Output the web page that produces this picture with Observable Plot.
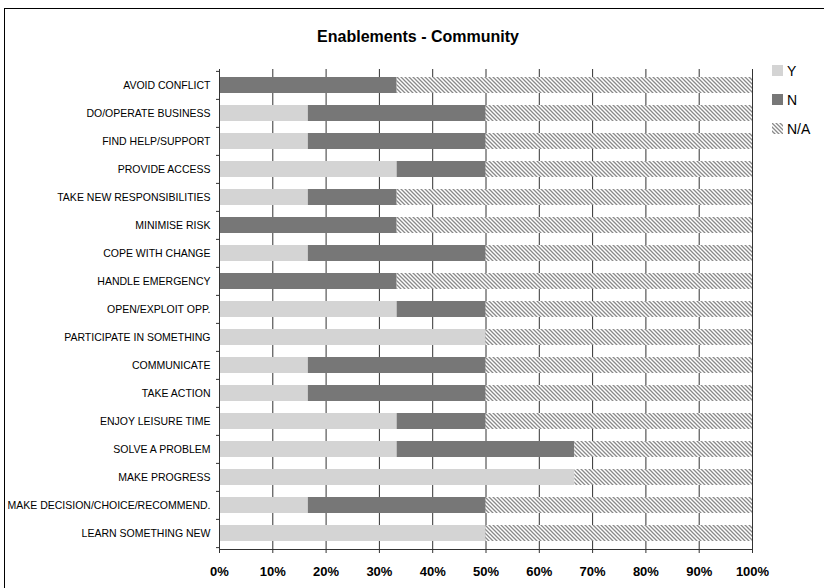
<!DOCTYPE html>
<html>
<head>
<meta charset="utf-8">
<script src="https://cdn.jsdelivr.net/npm/d3@7"></script>
<script src="https://cdn.jsdelivr.net/npm/@observablehq/plot@0.6"></script>
<style>
  body { margin: 0; background: #fff; font-family: "Liberation Sans", Arial, sans-serif; }
  #wrap { position: relative; width: 824px; height: 588px; overflow: hidden; background: #fff; }
  #border { position: absolute; left: 4px; top: 8px; width: 900px; height: 700px; border: 1.5px solid #000; }
  #title { position: absolute; top: 27px; left: 0; width: 836px; text-align: center; font-weight: bold; font-size: 16px; line-height: 20px; color: #000; }
  #chart { position: absolute; left: 0; top: 0; }
  #legend { position: absolute; left: 772px; top: 56px; font-size: 14px; color: #000; }
  .item { display: flex; align-items: center; height: 29px; }
  .item svg { margin-right: 4px; }
</style>
</head>
<body>
<div id="wrap">
  <div id="border"></div>
  <div id="title">Enablements - Community</div>
  <div id="chart"></div>
  <div id="legend"></div>
</div>
<script>
// Enablement categories, top to bottom
const categories = [
  "AVOID CONFLICT",
  "DO/OPERATE BUSINESS",
  "FIND HELP/SUPPORT",
  "PROVIDE ACCESS",
  "TAKE NEW RESPONSIBILITIES",
  "MINIMISE RISK",
  "COPE WITH CHANGE",
  "HANDLE EMERGENCY",
  "OPEN/EXPLOIT OPP.",
  "PARTICIPATE IN SOMETHING",
  "COMMUNICATE",
  "TAKE ACTION",
  "ENJOY LEISURE TIME",
  "SOLVE A PROBLEM",
  "MAKE PROGRESS",
  "MAKE DECISION/CHOICE/RECOMMEND.",
  "LEARN SOMETHING NEW"
];

// Response counts per category (six responses each)
const yesCounts = [0, 1, 1, 2, 1, 0, 1, 0, 2, 3, 1, 1, 2, 2, 4, 1, 3];
const noCounts  = [2, 2, 2, 1, 1, 2, 2, 2, 1, 0, 2, 2, 1, 2, 0, 2, 0];
const naCounts  = [4, 3, 3, 3, 4, 4, 3, 4, 3, 3, 3, 3, 3, 2, 2, 3, 3];

const seriesNames = ["Y", "N", "N/A"];
const seriesFills = ["#d4d4d4", "#777777", "url(#hatch)"];

const percentTicks = [0, 0.1, 0.2, 0.3, 0.4, 0.5, 0.6, 0.7, 0.8, 0.9, 1];

const seriesCounts = [yesCounts, noCounts, naCounts];
const rows = categories.flatMap((category, i) =>
  seriesNames.map((series, j) => ({category, series, count: seriesCounts[j][i]}))
);

const W = 824, H = 588;
const mL = 219, mR = 72, mT = 69, mB = 39;
const step = (H - mT - mB) / categories.length;
const noText = () => "";

const chart = Plot.plot({
  width: W,
  height: H,
  marginLeft: mL,
  marginRight: mR,
  marginTop: mT,
  marginBottom: mB,
  style: {
    fontFamily: '"Liberation Sans", Arial, sans-serif',
    fontSize: "10.5px",
    color: "#000",
    background: "transparent",
    overflow: "visible"
  },
  x: {domain: [0, 1], axis: null},
  y: {domain: categories, paddingInner: 0.43, paddingOuter: 0.215, axis: null},
  color: {domain: seriesNames, range: seriesFills},
  marks: [
    Plot.ruleX(percentTicks, {stroke: "#333", strokeWidth: 1}),
    Plot.barX(rows, Plot.stackX({x: "count", y: "category", fill: "series", offset: "normalize"})),
    Plot.ruleX([0], {stroke: "#333", strokeWidth: 1}),
    Plot.frame({anchor: "bottom", stroke: "#333"}),
    Plot.axisX(percentTicks, {
      anchor: "bottom", tickSize: 4, tickPadding: 13, stroke: "#333",
      tickFormat: d3.format(".0%"), fontSize: 13, fontWeight: "bold", label: null
    }),
    Plot.axisY({anchor: "left", tickSize: 0, tickPadding: 9, label: null}),
    Plot.axisY({anchor: "left", tickSize: 3, tickFormat: noText, label: null, dy: -step / 2, stroke: "#333"}),
    Plot.axisY([categories[categories.length - 1]], {anchor: "left", tickSize: 3, tickFormat: noText, label: null, dy: step / 2, stroke: "#333"})
  ]
});

// Diagonal hatch used for the N/A segments
function addHatch(svgNode, id) {
  const defs = d3.select(svgNode).insert("defs", ":first-child");
  const pat = defs.append("pattern")
    .attr("id", id)
    .attr("patternUnits", "userSpaceOnUse")
    .attr("width", 4).attr("height", 4);
  pat.append("rect").attr("width", 4).attr("height", 4).attr("fill", "#fff");
  pat.append("path")
    .attr("d", "M-1,-1L5,5M-1,3L1,5M3,-1L5,1")
    .attr("stroke", "#8a8a8a")
    .attr("stroke-width", 1.3);
}
addHatch(chart, "hatch");
document.getElementById("chart").appendChild(chart);

// Legend
const legend = d3.select("#legend");
seriesNames.forEach((name, i) => {
  const item = legend.append("div").attr("class", "item");
  const sw = item.append("svg").attr("width", 11).attr("height", 11);
  if (seriesFills[i].startsWith("url")) {
    addHatch(sw.node(), "hatch-legend");
    sw.append("rect").attr("width", 11).attr("height", 11).attr("fill", "url(#hatch-legend)");
  } else {
    sw.append("rect").attr("width", 11).attr("height", 11).attr("fill", seriesFills[i]);
  }
  item.append("span").text(name);
});
</script>
</body>
</html>
